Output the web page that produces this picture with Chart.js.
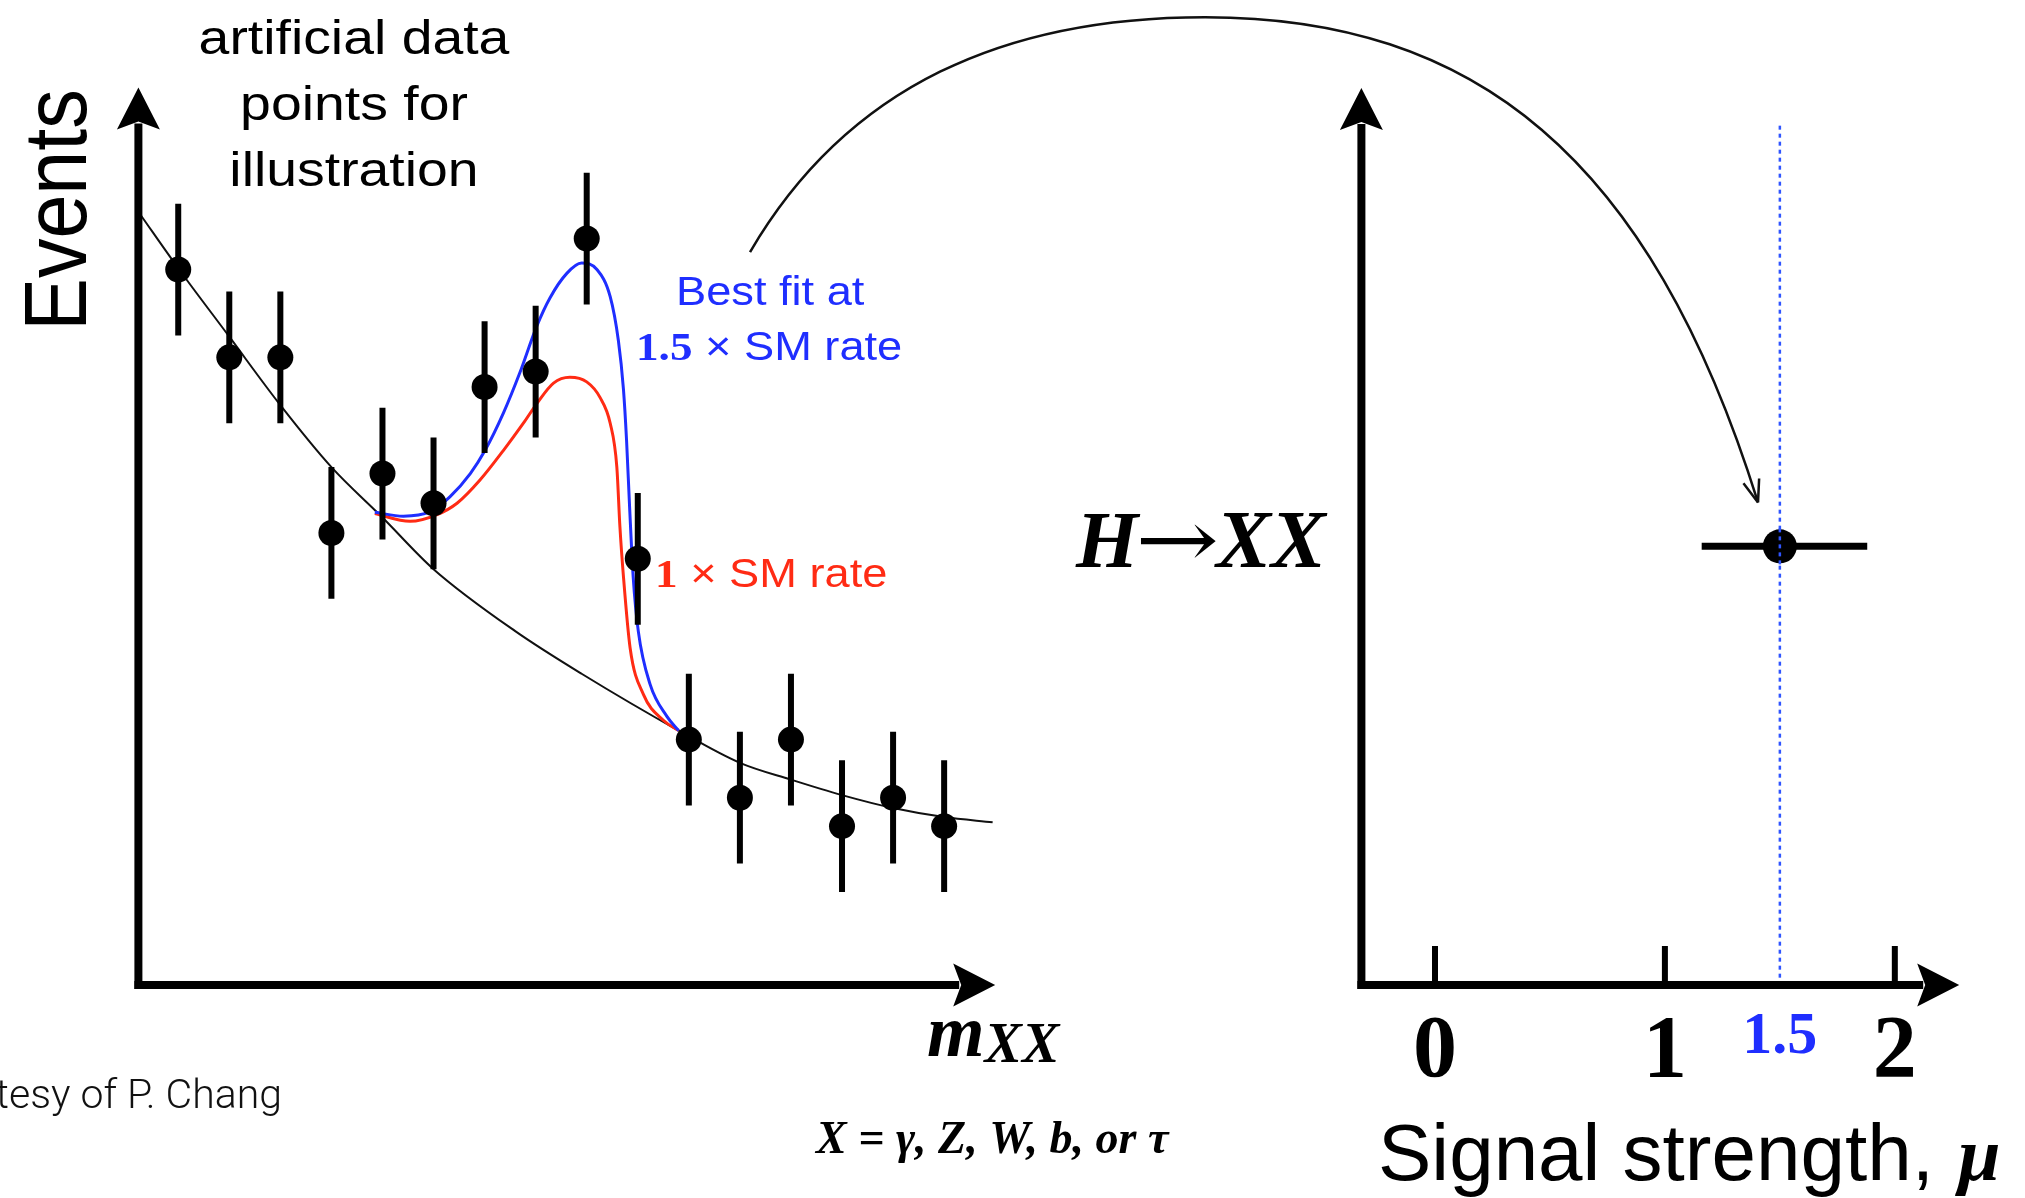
<!DOCTYPE html>
<html>
<head>
<meta charset="utf-8">
<script src="https://cdn.jsdelivr.net/npm/chart.js@4.4.1/dist/chart.umd.min.js"></script>
<style>
  html, body { margin: 0; padding: 0; background: #ffffff; }
  #stage { position: relative; width: 2025px; height: 1198px; overflow: hidden; background: #ffffff; }
  #stage canvas { position: absolute; left: 0; top: 0; }
</style>
</head>
<body>
<div id="stage">
  <canvas id="massChart" width="2025" height="1198"></canvas>
  <canvas id="muChart" width="2025" height="1198"></canvas>
</div>
<script>
// ---- m_XX spectrum: illustrative data points (bin index, events) ----
const binCenters  = [1, 2, 3, 4, 5, 6, 7, 8, 9, 10, 11, 12, 13, 14, 15, 16];
const eventCounts = [55.4, 48.6, 48.6, 35.0, 39.6, 37.3, 46.3, 47.5, 57.8, 33.0, 19.0, 14.5, 19.0, 12.3, 14.5, 12.3];
const eventErrors = [5.1, 5.1, 5.1, 5.1, 5.1, 5.1, 5.1, 5.1, 5.1, 5.1, 5.1, 5.1, 5.1, 5.1, 5.1, 5.1];

// falling background shape
const backgroundX = [0.25, 1.0, 2.0, 3.0, 4.0, 5.0, 6.0, 7.6, 8.9, 10.8, 12.0, 13.0, 14.0, 15.0, 16.0, 16.95];
const backgroundY = [59.7, 55.5, 50.2, 44.9, 40.1, 36.2, 32.2, 27.4, 24.1, 19.7, 17.2, 15.9, 14.7, 13.7, 13.0, 12.6];

// background + signal at the SM rate
const smRateX = [4.85, 5.54, 6.06, 6.46, 6.91, 7.37, 7.76, 8.02, 8.35, 8.67, 9.0, 9.26, 9.46, 9.59, 9.65, 9.72, 9.85, 10.11, 10.5, 10.8];
const smRateY = [36.5, 35.9, 36.4, 37.3, 39.1, 41.4, 43.5, 45.0, 46.6, 47.05, 46.7, 45.5, 43.5, 40.1, 35.5, 31.6, 26.1, 22.5, 20.5, 19.7];

// background + signal at the best-fit rate (1.5 x SM)
const bestFitX = [4.85, 5.41, 5.93, 6.32, 6.72, 7.01, 7.37, 7.69, 8.02, 8.28, 8.61, 8.9, 9.2, 9.46, 9.62, 9.72, 9.78, 9.84, 9.91, 10.01, 10.24, 10.57, 10.8];
const bestFitY = [36.6, 36.3, 36.65, 37.8, 39.6, 41.4, 44.3, 47.4, 51.0, 53.2, 55.1, 55.9, 55.4, 53.3, 49.9, 46.1, 42.2, 37.0, 31.6, 27.4, 23.3, 20.8, 19.7];

// ---- signal strength panel ----
const muTicks      = [0, 1, 2];
const muTickLabels = ['0', '1', '2'];
const muBestFit    = 1.5;
const muBestLabel  = '1.5';
const muLow        = 1.16;
const muHigh       = 1.88;
const channelRow   = 0.489;
const channelParts = ['H', '\u2192', 'XX'];

// guide arrow from the excess to the measured mu, in mu-panel units (mu, row)
const guideArcStart = [-2.979, 0.817];
const guideArcUp    = [[-2.553, 1.004], [-1.861, 1.079], [-1.0, 1.079]];
const guideArcDown  = [[0.170, 1.079], [0.935, 0.924], [1.405, 0.538]];

// ---- styling ----
const SANS  = "'Liberation Sans', Arial, Helvetica, sans-serif";
const SERIF = "'Liberation Serif', 'Times New Roman', Times, serif";
const BLUE  = '#1f2eff';
const RED   = '#ff2b14';
const DOT_BLUE = '#2f55ff';
const AXIS_W = 8;
const TEXT_STRETCH = 1.13;

function toPoints(xs, ys) { return xs.map((x, i) => ({ x: x, y: ys[i] })); }

function textRun(ctx, str, x, y, font, color, align, sx) {
  ctx.save();
  ctx.font = font;
  ctx.fillStyle = color;
  ctx.textAlign = align || 'left';
  ctx.textBaseline = 'alphabetic';
  const w = ctx.measureText(str).width * (sx || 1);
  ctx.translate(x, y);
  ctx.scale(sx || 1, 1);
  ctx.fillText(str, 0, 0);
  ctx.restore();
  return w;
}

function arrowHead(ctx, tipX, tipY, dx, dy, len, half, notch) {
  const bx = tipX - dx * len, by = tipY - dy * len;
  const nx = -dy, ny = dx;
  ctx.beginPath();
  ctx.moveTo(tipX, tipY);
  ctx.lineTo(bx + nx * half, by + ny * half);
  ctx.lineTo(bx + dx * notch, by + dy * notch);
  ctx.lineTo(bx - nx * half, by - ny * half);
  ctx.closePath();
  ctx.fill();
}

function drawAxes(ctx, area) {
  ctx.save();
  ctx.fillStyle = '#000';
  ctx.strokeStyle = '#000';
  ctx.lineWidth = AXIS_W;
  ctx.lineCap = 'butt';
  ctx.beginPath();
  ctx.moveTo(area.left, area.bottom + AXIS_W / 2);
  ctx.lineTo(area.left, area.top + 36);
  ctx.stroke();
  ctx.beginPath();
  ctx.moveTo(area.left - AXIS_W / 2, area.bottom);
  ctx.lineTo(area.right - 36, area.bottom);
  ctx.stroke();
  arrowHead(ctx, area.left, area.top, 0, -1, 42, 21.5, 8);
  arrowHead(ctx, area.right, area.bottom, 1, 0, 42, 21.5, 8);
  ctx.restore();
}

// ---- decorations of the m_XX panel ----
const massDecor = {
  id: 'massDecor',
  afterDatasetsDraw(chart) {
    const ctx = chart.ctx, xs = chart.scales.x, ys = chart.scales.y;
    ctx.save();
    ctx.strokeStyle = '#000';
    ctx.lineWidth = 6;
    binCenters.forEach((b, i) => {
      const px = xs.getPixelForValue(b);
      ctx.beginPath();
      ctx.moveTo(px, ys.getPixelForValue(eventCounts[i] - eventErrors[i]));
      ctx.lineTo(px, ys.getPixelForValue(eventCounts[i] + eventErrors[i]));
      ctx.stroke();
    });
    ctx.restore();
  },
  afterDraw(chart) {
    const ctx = chart.ctx;
    drawAxes(ctx, chart.chartArea);

    // vertical axis title
    ctx.save();
    ctx.font = '79px ' + SANS;
    ctx.fillStyle = '#000';
    ctx.textAlign = 'center';
    ctx.textBaseline = 'alphabetic';
    ctx.translate(86, 210);
    ctx.scale(TEXT_STRETCH, 1);
    ctx.rotate(-Math.PI / 2);
    ctx.fillText('Events', 0, 0);
    ctx.restore();

    // note above the spectrum
    const noteFont = '49px ' + SANS;
    textRun(ctx, 'artificial data', 354, 54, noteFont, '#000', 'center', TEXT_STRETCH);
    textRun(ctx, 'points for', 354, 120, noteFont, '#000', 'center', TEXT_STRETCH);
    textRun(ctx, 'illustration', 354, 186, noteFont, '#000', 'center', TEXT_STRETCH);

    // curve labels
    textRun(ctx, 'Best fit at', 676, 305, '40px ' + SANS, BLUE, 'left', TEXT_STRETCH);
    let x = 636;
    x += textRun(ctx, '1.5', x, 360, 'bold 40px ' + SERIF, BLUE, 'left', TEXT_STRETCH);
    textRun(ctx, ' \u00d7 SM rate', x, 360, '40px ' + SANS, BLUE, 'left', TEXT_STRETCH);
    x = 655;
    x += textRun(ctx, '1', x, 587, 'bold 40px ' + SERIF, RED, 'left', TEXT_STRETCH);
    textRun(ctx, ' \u00d7 SM rate', x, 587, '40px ' + SANS, RED, 'left', TEXT_STRETCH);

    // horizontal axis title
    x = 927;
    x += textRun(ctx, 'm', x, 1056, 'italic bold 74px ' + SERIF, '#000', 'left', 1);
    textRun(ctx, 'XX', x, 1062, 'italic bold 56px ' + SERIF, '#000', 'left', 1);
    textRun(ctx, 'X = \u03b3, Z, W, b, or \u03c4', 816, 1153, 'italic bold 46px ' + SERIF, '#000', 'left', 1);

    // credit line
    textRun(ctx, 'Courtesy of P. Chang', 282, 1108, '300 41px Roboto, ' + SANS, '#111', 'right', 1);
  }
};

const massChart = new Chart(document.getElementById('massChart'), {
  type: 'line',
  data: {
    datasets: [
      {
        type: 'scatter',
        label: 'Data',
        data: toPoints(binCenters, eventCounts),
        pointRadius: 13,
        pointBackgroundColor: '#000',
        pointBorderColor: '#000',
        pointBorderWidth: 0,
        showLine: false,
        order: 0
      },
      {
        label: 'Best fit at 1.5 x SM rate',
        data: toPoints(bestFitX, bestFitY),
        borderColor: BLUE,
        borderWidth: 3,
        pointRadius: 0,
        fill: false,
        cubicInterpolationMode: 'monotone',
        order: 1
      },
      {
        label: '1 x SM rate',
        data: toPoints(smRateX, smRateY),
        borderColor: RED,
        borderWidth: 3,
        pointRadius: 0,
        fill: false,
        cubicInterpolationMode: 'monotone',
        order: 2
      },
      {
        label: 'Background',
        data: toPoints(backgroundX, backgroundY),
        borderColor: '#111',
        borderWidth: 2,
        pointRadius: 0,
        fill: false,
        cubicInterpolationMode: 'monotone',
        order: 3
      }
    ]
  },
  options: {
    responsive: false,
    animation: false,
    devicePixelRatio: 1,
    events: [],
    layout: { padding: { left: 138.4, right: 2025 - 995.2, top: 985 - 69.5 * 12.915, bottom: 1198 - 985 } },
    scales: {
      x: { type: 'linear', min: 0.22, max: 17, display: false },
      y: { type: 'linear', min: 0, max: 69.5, display: false }
    },
    plugins: { legend: { display: false }, tooltip: { enabled: false } }
  },
  plugins: [massDecor]
});

// ---- decorations of the signal strength panel ----
function dottedGuide(ctx, px, y0, y1) {
  ctx.save();
  ctx.strokeStyle = DOT_BLUE;
  ctx.lineWidth = 2.5;
  ctx.setLineDash([4, 4]);
  ctx.beginPath();
  ctx.moveTo(px, y0);
  ctx.lineTo(px, y1);
  ctx.stroke();
  ctx.restore();
}

const muDecor = {
  id: 'muDecor',
  beforeDatasetsDraw(chart) {
    const ctx = chart.ctx, xs = chart.scales.x, ys = chart.scales.y;
    const px = xs.getPixelForValue(muBestFit);
    dottedGuide(ctx, px, ys.getPixelForValue(0.958), ys.getPixelForValue(0));
    ctx.save();
    ctx.strokeStyle = '#000';
    ctx.lineWidth = 7;
    const py = ys.getPixelForValue(channelRow);
    ctx.beginPath();
    ctx.moveTo(xs.getPixelForValue(muLow), py);
    ctx.lineTo(xs.getPixelForValue(muHigh), py);
    ctx.stroke();
    ctx.restore();
  },
  afterDatasetsDraw(chart) {
    // the dotted line stays visible through the marker
    const ctx = chart.ctx, xs = chart.scales.x, ys = chart.scales.y;
    const px = xs.getPixelForValue(muBestFit);
    const py = ys.getPixelForValue(channelRow);
    dottedGuide(ctx, px, py - 18, py + 18);
  },
  afterDraw(chart) {
    const ctx = chart.ctx, xs = chart.scales.x, ys = chart.scales.y, area = chart.chartArea;

    // tick marks rising from the axis
    ctx.save();
    ctx.strokeStyle = '#000';
    ctx.lineWidth = 6;
    muTicks.forEach(t => {
      const px = xs.getPixelForValue(t);
      ctx.beginPath();
      ctx.moveTo(px, area.bottom);
      ctx.lineTo(px, area.bottom - 39);
      ctx.stroke();
    });
    ctx.restore();
    drawAxes(ctx, area);

    // tick labels
    muTicks.forEach((t, i) => {
      textRun(ctx, muTickLabels[i], xs.getPixelForValue(t), 1076, 'bold 88px ' + SERIF, '#000', 'center', 1);
    });
    textRun(ctx, muBestLabel, xs.getPixelForValue(muBestFit), 1053, 'bold 60px ' + SERIF, BLUE, 'center', 1);

    // channel label: H, a long arrow, XX
    const arrowFont = "80px 'DejaVu Serif', " + SERIF;
    let x = 1076;
    x += textRun(ctx, channelParts[0], x, 567, 'italic bold 80px ' + SERIF, '#000', 'left', 1);
    ctx.save();
    ctx.font = arrowFont;
    const aw = ctx.measureText(channelParts[1]).width;
    ctx.restore();
    textRun(ctx, channelParts[1], x - 3, 567, arrowFont, '#000', 'left', 84 / aw);
    textRun(ctx, channelParts[2], x + 78, 567, 'italic bold 82px ' + SERIF, '#000', 'left', 1);

    // axis title
    x = 1378;
    x += textRun(ctx, 'Signal strength, ', x, 1180, '80px ' + SANS, '#000', 'left', 1);
    textRun(ctx, '\u03bc', x + 2, 1180, 'italic bold 76px ' + SERIF, '#000', 'left', 1);

    // guide arrow
    const P = p => [xs.getPixelForValue(p[0]), ys.getPixelForValue(p[1])];
    const s = P(guideArcStart);
    const u = guideArcUp.map(P);
    const d = guideArcDown.map(P);
    ctx.save();
    ctx.strokeStyle = '#111';
    ctx.lineWidth = 2.5;
    ctx.beginPath();
    ctx.moveTo(s[0], s[1]);
    ctx.bezierCurveTo(u[0][0], u[0][1], u[1][0], u[1][1], u[2][0], u[2][1]);
    ctx.bezierCurveTo(d[0][0], d[0][1], d[1][0], d[1][1], d[2][0], d[2][1]);
    ctx.stroke();
    const tip = d[2];
    let vx = d[2][0] - d[1][0], vy = d[2][1] - d[1][1];
    const n = Math.hypot(vx, vy); vx /= n; vy /= n;
    const ang = 20 * Math.PI / 180, len = 24;
    ctx.beginPath();
    [-ang, ang].forEach(a => {
      const c = Math.cos(a), sn = Math.sin(a);
      const rx = -(vx * c - vy * sn), ry = -(vx * sn + vy * c);
      ctx.moveTo(tip[0], tip[1]);
      ctx.lineTo(tip[0] + rx * len, tip[1] + ry * len);
    });
    ctx.stroke();
    ctx.restore();
  }
};

const muChart = new Chart(document.getElementById('muChart'), {
  type: 'scatter',
  data: {
    datasets: [{
      label: channelParts.join(''),
      data: [{ x: muBestFit, y: channelRow }],
      pointRadius: 17,
      pointBackgroundColor: '#000',
      pointBorderColor: '#000',
      pointBorderWidth: 0
    }]
  },
  options: {
    responsive: false,
    animation: false,
    devicePixelRatio: 1,
    events: [],
    layout: { padding: { left: 1361.4, right: 2025 - 1959.2, top: 88, bottom: 1198 - 985 } },
    scales: {
      x: { type: 'linear', min: -0.32, max: 2.28, display: false },
      y: { type: 'linear', min: 0, max: 1, display: false }
    },
    plugins: { legend: { display: false }, tooltip: { enabled: false } }
  },
  plugins: [muDecor]
});
</script>
</body>
</html>
